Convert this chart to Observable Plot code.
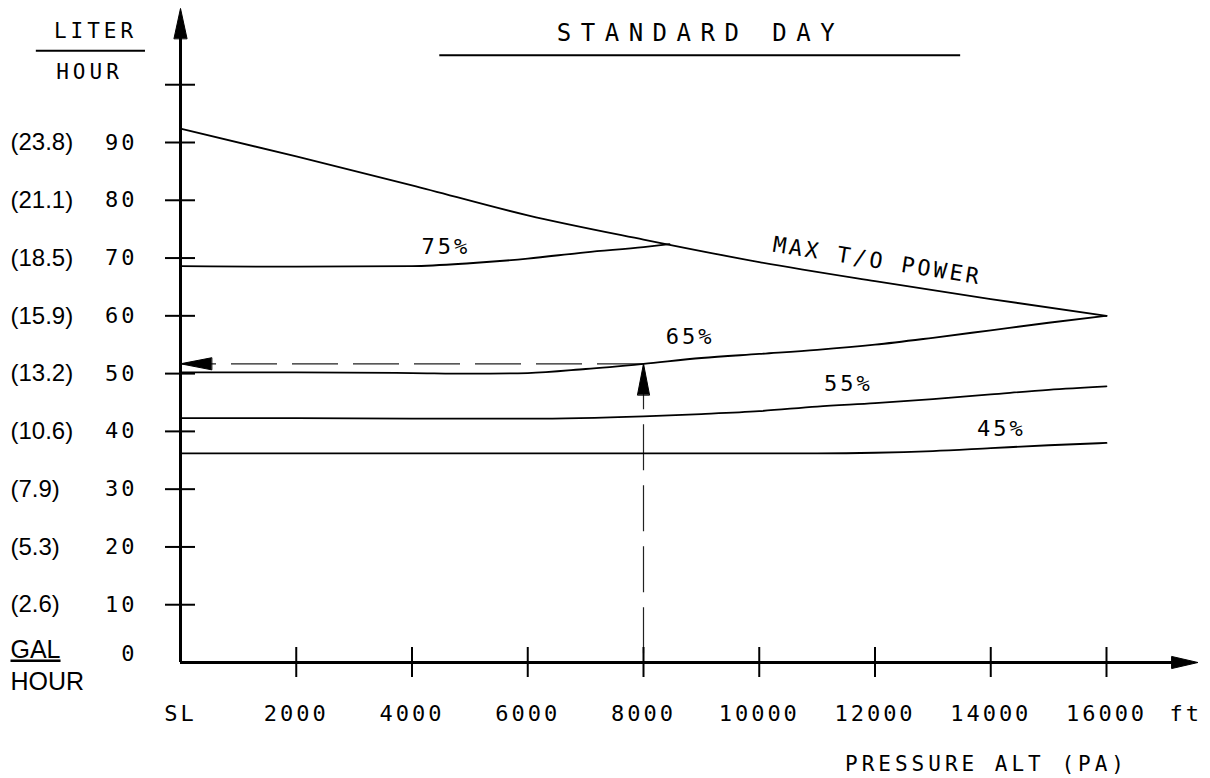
<!DOCTYPE html>
<html>
<head>
<meta charset="utf-8">
<script src="https://cdn.jsdelivr.net/npm/d3@7"></script>
<script src="https://cdn.jsdelivr.net/npm/@observablehq/plot@0.6"></script>
<style>
  html, body { margin: 0; padding: 0; background: #fff; }
  svg { display: block; }
</style>
</head>
<body>
<div id="chart"></div>
<script>
// ---------- data ----------
// MAX T/O POWER curve
const altMax  = [0, 2000, 4000, 6000, 8000, 10000, 12000, 14000, 16000];
const fuelMax = [92.4, 87.6, 82.6, 77.4, 73.2, 69.3, 66.0, 62.9, 60.0];
// 75% power
const alt75  = [0, 2000, 4000, 5000, 6000, 7000, 8000, 8450];
const fuel75 = [68.6, 68.5, 68.6, 69.1, 69.9, 71.0, 71.9, 72.4];
// 65% power
const alt65  = [0, 2000, 4000, 5000, 6000, 7000, 8000, 9000, 10000, 11000, 12000, 13000, 14000, 15000, 16000];
const fuel65 = [50.2, 50.2, 50.1, 50.0, 50.1, 50.8, 51.7, 52.7, 53.4, 54.1, 55.0, 56.2, 57.5, 58.8, 60.0];
// 55% power
const alt55  = [0, 2000, 4000, 6000, 8000, 9000, 10000, 11000, 12000, 13000, 14000, 15000, 16000];
const fuel55 = [42.3, 42.3, 42.2, 42.2, 42.6, 43.0, 43.5, 44.3, 44.9, 45.6, 46.4, 47.2, 47.8];
// 45% power
const alt45  = [0, 4000, 8000, 11000, 12000, 13000, 14000, 15000, 16000];
const fuel45 = [36.2, 36.2, 36.2, 36.2, 36.3, 36.6, 37.1, 37.6, 38.0];

// example reading (dashed arrows)
const exampleAlt = 8000;
const exampleFuel = 51.7;

// power labels
const powerLabels    = ["75%", "65%", "55%", "45%"];
const powerLabelAlt  = [4585, 8806, 11540, 14185];
const powerLabelFuel = [71.9, 56.4, 48.2, 40.4];
const maxLabel = "MAX T/O POWER";
const maxLabelAlt = 12040, maxLabelFuel = 69.5;

// axes
const xTickValues = [0, 2000, 4000, 6000, 8000, 10000, 12000, 14000, 16000];
const xTickLabels = ["SL", "2000", "4000", "6000", "8000", "10000", "12000", "14000", "16000"];
const xTickMarks  = [2000, 4000, 6000, 8000, 10000, 12000, 14000, 16000];
const yTickValues = [10, 20, 30, 40, 50, 60, 70, 80, 90];
const yTickLabels = ["10", "20", "30", "40", "50", "60", "70", "80", "90"];
const galLabels   = ["(2.6)", "(5.3)", "(7.9)", "(10.6)", "(13.2)", "(15.9)", "(18.5)", "(21.1)", "(23.8)"];
const yTickMarks  = [10, 20, 30, 40, 50, 60, 70, 80, 90, 100];
const yAxisTop = 113.2;   // value where the y-axis arrow tip sits
const xAxisEnd = 17580;   // value where the x-axis arrow tip sits

// ---------- build tables ----------
const curveRows = [];
[["MAX", altMax, fuelMax], ["75", alt75, fuel75], ["65", alt65, fuel65],
 ["55", alt55, fuel55], ["45", alt45, fuel45]].forEach(([name, a, f]) => {
  a.forEach((v, i) => curveRows.push({series: name, alt: v, fuel: f[i]}));
});
const xLabelRows = xTickValues.map((v, i) => ({v, label: xTickLabels[i]}));
const yLabelRows = yTickValues.map((v, i) => ({v, label: yTickLabels[i], gal: galLabels[i]}));
const powerRows = powerLabels.map((t, i) => ({t, x: powerLabelAlt[i], y: powerLabelFuel[i]}));

const mono = "DejaVu Sans Mono, monospace";
const sans = "Liberation Sans, Arial, sans-serif";
const spike = {
  draw(context, l, r) {
    context.moveTo(-r, 0);
    context.lineTo(0, -l);
    context.lineTo(r, 0);
    context.closePath();
  }
};
const arrowStyle = {shape: spike, anchor: "end", fill: "black", stroke: "black", strokeWidth: 1};
const dashStyle = {stroke: "#222", strokeWidth: 1.2, strokeDasharray: "46,15"};
const T = {lineAnchor: "middle"};

const chart = Plot.plot({
  width: 1210,
  height: 778,
  marginLeft: 180,
  marginRight: 104,
  marginTop: 142,
  marginBottom: 116,
  x: {domain: [0, 16000], axis: null},
  y: {domain: [0, 90], axis: null},
  style: {background: "white", color: "black", overflow: "visible"},
  marks: [
    // example dashed reading
    Plot.ruleY([exampleFuel], {x1: exampleAlt, x2: 0, ...dashStyle}),
    Plot.ruleX([exampleAlt], {y1: exampleFuel, y2: 0, ...dashStyle}),
    Plot.vector([0], {x: 0, y: exampleFuel, rotate: 270, length: 31, r: 6, ...arrowStyle}),
    Plot.vector([0], {x: exampleAlt, y: exampleFuel, rotate: 0, length: 31, r: 6, ...arrowStyle}),

    // curves
    Plot.line(curveRows, {x: "alt", y: "fuel", z: "series", curve: "monotone-x", stroke: "black", strokeWidth: 1.8}),

    // axes
    Plot.ruleX([0], {y1: 0, y2: yAxisTop - 3, strokeWidth: 3}),
    Plot.ruleY([0], {x1: 0, x2: xAxisEnd - 300, strokeWidth: 3}),
    Plot.ruleY(yTickMarks, {x1: 0, x2: 0, insetLeft: -15, insetRight: -15, strokeWidth: 2}),
    Plot.ruleX(xTickMarks, {y1: 0, y2: 0, insetTop: -15, insetBottom: -15, strokeWidth: 2}),
    Plot.vector([0], {x: 0, y: yAxisTop, rotate: 0, length: 30, r: 6.5, ...arrowStyle}),
    Plot.vector([0], {x: xAxisEnd, y: 0, rotate: 90, length: 26, r: 6, ...arrowStyle}),

    // y tick labels
    Plot.text(yLabelRows, {y: "v", text: "label", frameAnchor: "left", dx: -43, textAnchor: "end", fontFamily: mono, fontSize: 22, ...T}),
    Plot.text(["0"], {frameAnchor: "bottom-left", dx: -43, dy: -9, textAnchor: "end", fontFamily: mono, fontSize: 22, ...T}),
    Plot.text(yLabelRows, {y: "v", text: "gal", frameAnchor: "left", dx: -170, textAnchor: "start", fontFamily: sans, fontSize: 24, ...T}),
    Plot.text(["GAL"], {frameAnchor: "bottom-left", dx: -170, dy: -13, textAnchor: "start", fontFamily: sans, fontSize: 25, ...T}),
    Plot.text(["HOUR"], {frameAnchor: "bottom-left", dx: -170, dy: 19, textAnchor: "start", fontFamily: sans, fontSize: 25, ...T}),

    // LITER / HOUR header
    Plot.text(["LITER"], {frameAnchor: "top-left", dx: -85, dy: -111, textAnchor: "middle", fontFamily: mono, fontSize: 21, ...T}),
    Plot.ruleY([105.9], {x1: -2491, x2: -605, strokeWidth: 2}),
    Plot.text(["HOUR"], {frameAnchor: "top-left", dx: -91, dy: -70, textAnchor: "middle", fontFamily: mono, fontSize: 21, ...T}),

    // title
    Plot.text(["STANDARD DAY"], {frameAnchor: "top", dx: 57, dy: -109, textAnchor: "middle", fontFamily: mono, fontSize: 24, ...T}),
    Plot.ruleY([105.1], {x1: 4480, x2: 13480, strokeWidth: 2}),

    // x tick labels
    Plot.text(xLabelRows, {x: "v", text: "label", frameAnchor: "bottom", dy: 51, fontFamily: mono, fontSize: 22, ...T}),
    Plot.text([{x: 17370, t: "ft"}], {x: "x", text: "t", frameAnchor: "bottom", dy: 51, fontFamily: mono, fontSize: 22, ...T}),
    Plot.text(["PRESSURE ALT (PA)"], {frameAnchor: "bottom-right", dx: -120, dy: 102, textAnchor: "middle", fontFamily: mono, fontSize: 21, ...T}),

    // curve labels
    Plot.text(powerRows, {x: "x", y: "y", text: "t", fontFamily: mono, fontSize: 22, ...T}),
    Plot.text([{x: maxLabelAlt, y: maxLabelFuel, t: maxLabel}], {x: "x", y: "y", text: "t", rotate: 9, fontFamily: mono, fontSize: 22, ...T})
  ]
});

// letter spacing for the drafting-style text, underline for GAL
chart.querySelectorAll("g[font-family^='DejaVu']").forEach(g => {
  const fs = +g.getAttribute("font-size");
  g.style.letterSpacing = fs >= 24 ? "9.5px" : fs === 21 ? "4px" : "3px";
});
chart.querySelectorAll("text").forEach(t => {
  if (t.textContent === "GAL") t.setAttribute("text-decoration", "underline");
});
document.getElementById("chart").appendChild(chart);
</script>
</body>
</html>
